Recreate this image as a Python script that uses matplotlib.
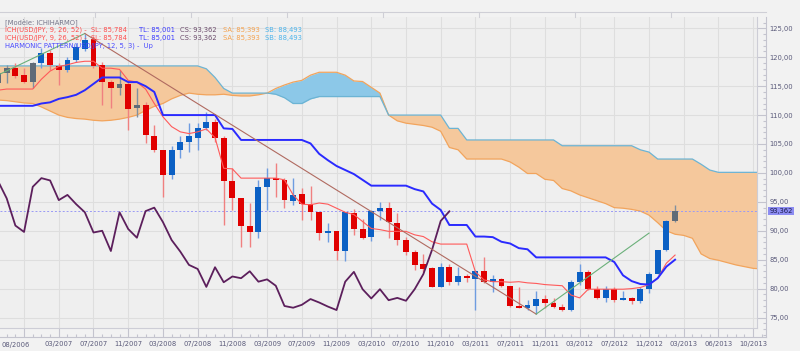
import numpy as np
import matplotlib
matplotlib.use("Agg")
import matplotlib.pyplot as plt
from matplotlib.lines import Line2D
from matplotlib.ticker import FixedLocator, MultipleLocator, FuncFormatter

# monthly USD/JPY candles, index 0 = 08/2006
opens = [115.5, 117.3, 118.1, 116.9, 115.8, 119.0, 120.7, 118.5, 117.8, 119.6,
         121.5, 123.2, 118.7, 115.8, 114.7, 115.4, 111.2, 111.7, 106.4, 104.0,
         99.6, 104.0, 105.4, 106.1, 107.8, 108.8, 106.1, 98.6, 95.6, 90.9,
         89.8, 97.6, 99.1, 98.7, 95.2, 96.3, 94.6, 93.2, 89.7, 90.0,
         86.5, 93.0, 90.3, 89.0, 93.4, 94.0, 91.3, 88.4, 86.4, 84.2,
         83.5, 80.3, 83.7, 81.1, 82.1, 81.6, 83.0, 81.2, 81.6, 80.5,
         77.0, 76.7, 77.0, 78.2, 77.6, 76.9, 76.3, 81.2, 82.9, 79.9,
         78.3, 79.9, 78.1, 78.3, 77.9, 79.9, 82.5, 86.7, 91.7]
highs = [117.5, 118.7, 119.0, 118.2, 119.2, 121.6, 121.3, 119.0, 120.0, 122.5,
         124.0, 123.7, 119.2, 116.1, 117.8, 115.8, 114.6, 112.2, 108.3, 104.0,
         104.6, 106.3, 108.6, 108.6, 110.6, 109.3, 106.3, 100.8, 95.6, 94.8,
         98.8, 100.8, 101.7, 99.1, 99.1, 97.4, 97.8, 93.2, 91.3, 90.0,
         93.3, 93.8, 92.0, 93.6, 94.9, 95.0, 93.0, 89.0, 86.7, 85.9,
         83.7, 84.5, 84.2, 83.8, 82.6, 83.2, 85.5, 82.3, 81.8, 80.5,
         80.3, 78.0, 79.6, 78.9, 78.3, 77.3, 81.5, 84.2, 83.2, 80.5,
         80.5, 80.3, 79.6, 78.6, 80.3, 82.9, 86.7, 91.9, 94.5]
lows = [114.6, 115.6, 116.4, 115.5, 114.7, 118.1, 117.8, 115.2, 117.4, 119.2,
        121.0, 118.1, 111.7, 111.2, 113.5, 107.4, 109.7, 105.1, 103.7, 95.9,
        99.0, 102.5, 103.7, 104.0, 107.4, 105.4, 91.0, 93.6, 87.2, 87.2,
        88.7, 93.6, 95.9, 93.9, 94.5, 91.9, 91.9, 88.4, 88.1, 85.0,
        84.8, 89.3, 88.6, 88.2, 91.9, 88.7, 87.5, 85.8, 83.2, 82.9,
        80.3, 80.3, 80.6, 80.6, 81.2, 76.3, 80.9, 79.5, 80.3, 76.8,
        76.6, 76.3, 75.6, 76.7, 76.6, 76.1, 76.1, 80.6, 79.8, 78.2,
        77.7, 77.7, 78.0, 77.3, 77.6, 79.2, 82.5, 86.5, 91.5]
closes = [117.2, 118.1, 116.8, 115.8, 119.0, 120.7, 118.6, 117.8, 119.6, 121.7,
          123.0, 118.5, 115.8, 114.7, 115.4, 111.0, 111.7, 106.6, 104.0, 99.6,
          104.0, 105.4, 106.3, 107.8, 108.8, 106.1, 98.6, 95.6, 90.9, 89.8,
          97.6, 99.1, 98.7, 95.3, 96.2, 94.6, 93.2, 89.7, 90.0, 86.5,
          93.2, 90.3, 88.8, 93.4, 94.0, 91.5, 88.4, 86.4, 84.1, 83.4,
          80.3, 83.7, 81.1, 82.1, 81.8, 83.0, 81.2, 81.6, 80.5, 77.0,
          76.7, 77.2, 78.2, 77.6, 76.9, 76.3, 81.2, 82.9, 79.9, 78.3,
          79.9, 78.0, 78.4, 77.9, 79.9, 82.5, 86.7, 91.7, 93.362]
candle_col = ['g', 'g', 'r', 'r', 'g', 'b', 'r', 'r', 'b', 'b',
              'b', 'r', 'r', 'r', 'g', 'r', 'g', 'r', 'r', 'r',
              'b', 'b', 'b', 'b', 'b', 'r', 'r', 'r', 'r', 'r',
              'b', 'b', 'r', 'r', 'b', 'r', 'r', 'r', 'b', 'r',
              'b', 'r', 'r', 'b', 'b', 'r', 'r', 'r', 'r', 'r',
              'r', 'b', 'r', 'b', 'r', 'b', 'r', 'b', 'r', 'r',
              'r', 'b', 'b', 'r', 'r', 'r', 'b', 'b', 'r', 'r',
              'b', 'r', 'b', 'r', 'b', 'b', 'b', 'b', 'g']

# ichimoku lines
tenkan = [114.3, 114.5, 114.5, 114.5, 114.5, 116.2, 117.6, 118.4, 118.7, 119.1,
          119.3, 119.3, 118.1, 118.1, 117.9, 116.0, 115.7, 114.5, 112.0, 109.7,
          108.0, 107.1, 106.8, 107.1, 107.6, 106.1, 100.8, 100.7, 99.1, 99.1,
          99.1, 99.1, 99.1, 98.8, 96.2, 94.6, 94.5, 94.8, 94.6, 93.9,
          93.2, 92.8, 91.6, 90.4, 90.2, 89.9, 89.9, 89.9, 89.3, 89.0,
          88.1, 87.7, 87.7, 87.7, 87.7, 82.9, 81.5, 81.2, 81.2, 81.1,
          81.2, 81.0, 80.9, 80.7, 80.6, 80.5, 78.9, 78.4, 79.9, 79.9,
          79.9, 79.9, 79.9, 80.0, 80.2, 80.7, 81.8, 84.4, 85.8]
kijun = [111.6, 111.6, 111.6, 111.6, 111.6, 112.0, 112.2, 112.8, 113.1, 113.5,
         114.3, 115.4, 116.5, 116.5, 116.5, 115.7, 115.7, 115.0, 114.0, 110.0,
         110.0, 110.0, 110.0, 110.0, 110.0, 110.0, 107.7, 107.6, 105.7, 105.7,
         105.7, 105.7, 105.7, 105.7, 105.7, 105.7, 105.1, 103.3, 102.2, 101.2,
         100.5, 99.8, 98.8, 97.8, 97.8, 97.8, 97.8, 97.8, 97.2, 96.8,
         94.7, 93.6, 91.0, 91.0, 91.0, 89.0, 89.0, 88.9, 88.1, 87.8,
         87.0, 86.8, 85.4, 85.4, 85.4, 85.4, 85.4, 85.4, 85.4, 85.4,
         85.4, 84.6, 82.3, 81.3, 80.8, 80.7, 81.8, 83.8, 85.0]
chikou = [98.6, 95.6, 90.9, 89.8, 97.6, 99.1, 98.7, 95.3, 96.2, 94.6,
          93.2, 89.7, 90.0, 86.5, 93.2, 90.3, 88.8, 93.4, 94.0, 91.5,
          88.4, 86.4, 84.1, 83.4, 80.3, 83.7, 81.1, 82.1, 81.8, 83.0,
          81.2, 81.6, 80.5, 77.0, 76.7, 77.2, 78.2, 77.6, 76.9, 76.3,
          81.2, 82.9, 79.9, 78.3, 79.9, 78.0, 78.4, 77.9, 79.9, 82.5,
          86.7, 91.7, 93.362]
senkou_a = [112.6, 112.5, 112.3, 112.1, 112.0, 111.4, 110.7, 110.0, 109.6, 109.4,
            109.3, 109.1, 109.0, 109.1, 109.3, 109.6, 110.0, 110.8, 111.5, 112.0,
            112.8, 113.4, 113.8, 113.6, 113.5, 113.5, 113.6, 113.4, 113.3, 113.3,
            113.5, 113.8, 114.6, 115.2, 115.7, 116.0, 116.9, 117.4, 117.4, 117.4,
            116.9, 115.9, 115.8, 114.8, 113.8, 110.0, 109.0, 108.6, 108.4, 108.2,
            107.9, 107.2, 104.4, 104.0, 102.4, 102.4, 102.4, 102.4, 102.4, 101.9,
            101.0, 99.9, 99.9, 98.9, 98.7, 97.3, 96.9, 96.2, 95.7, 95.2,
            94.7, 94.0, 93.9, 93.7, 93.4, 92.7, 91.4, 90.0, 89.4, 89.2,
            88.7, 86.0, 85.2, 84.9, 84.5, 84.1, 83.8, 83.5, 83.4, 83.3]
senkou_b = [118.5, 118.5, 118.5, 118.5, 118.5, 118.5, 118.5, 118.5, 118.5, 118.5,
            118.5, 118.5, 118.5, 118.5, 118.5, 118.5, 118.5, 118.5, 118.5, 118.5,
            118.5, 118.5, 118.5, 118.5, 118.0, 116.5, 114.6, 113.8, 113.8, 113.8,
            113.8, 113.8, 113.6, 113.0, 112.0, 112.0, 112.8, 113.2, 113.2, 113.2,
            113.2, 113.2, 113.2, 113.2, 113.2, 110.0, 110.0, 110.0, 110.0, 110.0,
            110.0, 110.0, 107.7, 107.7, 105.7, 105.7, 105.7, 105.7, 105.7, 105.7,
            105.7, 105.7, 105.7, 105.7, 105.7, 104.7, 104.7, 104.7, 104.7, 104.7,
            104.7, 104.7, 104.7, 104.7, 104.0, 103.6, 102.4, 102.4, 102.4, 102.4,
            102.4, 101.5, 100.5, 100.1, 100.1, 100.1, 100.1, 100.1, 100.1, 100.1]

# harmonic pattern pivots (index, price)
harm_idx = [-1, 10, 62, 75]
harm_val = [116.2, 124.1, 75.6, 89.6]
harm_col = ['#6bb07a', '#b06a60', '#6bb07a']

last_price = 93.362
tick_idx = list(range(3, 88, 4))
tick_lab = ['08/2006', '03/2007', '07/2007', '11/2007', '03/2008', '07/2008', '11/2008',
            '03/2009', '07/2009', '11/2009', '03/2010', '07/2010', '11/2010', '03/2011',
            '07/2011', '11/2011', '03/2012', '07/2012', '11/2012', '03/2013', '06/2013',
            '10/2013']

W, H = 800, 351
# pixel -> data mapping: x = -1.98 + 8.68*k ; y = 28.3 + (125 - v)*5.785
def kx(px):
    return (px + 1.98) / 8.68

def vy(py):
    return 125 - (py - 28.3) / 5.785

fig = plt.figure(figsize=(8, 3.51), dpi=100, facecolor='#f2f2f2')
# outer axes: tick strip
axt = fig.add_axes([0, 1 - 337 / H, 766 / W, 320 / H])
axt.set_xlim(kx(0), kx(766))
axt.set_ylim(vy(337), vy(17))
axt.patch.set_alpha(0)
# main plotting area
ax = fig.add_axes([0, 1 - 328 / H, 757 / W, 311 / H])
ax.set_facecolor('#efefef')
ax.set_xlim(kx(0), kx(757))
ax.set_ylim(vy(328), vy(17))

n = len(closes)
k = np.arange(n)

# cloud
kc = np.arange(len(senkou_a))
sa = np.array(senkou_a)
sb = np.array(senkou_b)
ax.fill_between(kc, sa, sb, where=sb >= sa, interpolate=True, color='#f5c89c', lw=0, zorder=1)
ax.fill_between(kc, sa, sb, where=sa > sb, interpolate=True, color='#8cc8e8', lw=0, zorder=1)
ax.plot(kc, sa, color='#f2a45c', lw=0.9, zorder=2)
ax.plot(kc, sb, color='#6cb4d4', lw=0.9, zorder=2)

# candles
body = {'r': '#e00000', 'b': '#0b60c4', 'g': '#5f6b78'}
wick = {'r': '#f08080', 'b': '#6e9ce0', 'g': '#8090a0'}
for i in range(n):
    c = candle_col[i]
    ax.vlines(k[i], lows[i], highs[i], color=wick[c], lw=1.0, zorder=3)
    lo = min(opens[i], closes[i])
    ax.bar(k[i], max(abs(closes[i] - opens[i]), 0.15), bottom=lo, width=0.68,
           color=body[c], lw=0, zorder=4)

ax.plot(k, tenkan, color='#ff5a5a', lw=0.8, zorder=5)
ax.plot(k, kijun, color='#2a2aff', lw=1.4, zorder=5)
ax.plot(np.arange(len(chikou)), chikou, color='#5c1f5c', lw=1.3, zorder=5)

for j in range(3):
    ax.plot(harm_idx[j:j + 2], harm_val[j:j + 2], color=harm_col[j], lw=0.8, zorder=5)

ax.axhline(last_price, color='#9a9af5', lw=0.7, ls=(0, (2, 2)), zorder=2)

# grid on the plotting area
ax.xaxis.set_major_locator(FixedLocator(tick_idx))
ax.yaxis.set_major_locator(MultipleLocator(5))
ax.grid(True, which='major', color='#dedede', lw=0.8, zorder=0)
ax.set_axisbelow(True)
ax.tick_params(which='both', length=0, labelbottom=False, labelleft=False)
for s in ax.spines.values():
    s.set_visible(False)
ax.spines['right'].set_visible(True)
ax.spines['bottom'].set_visible(True)
ax.spines['right'].set_color('#cdcdd6')
ax.spines['bottom'].set_color('#cdcdd6')

# ticks on the outer strip
axt.xaxis.set_major_locator(FixedLocator(tick_idx))
axt.xaxis.set_minor_locator(MultipleLocator(1))
axt.set_xticklabels([''] + tick_lab[1:])
axt.yaxis.set_major_locator(MultipleLocator(5))
axt.yaxis.set_minor_locator(MultipleLocator(1))
axt.yaxis.tick_right()
axt.yaxis.set_major_formatter(FuncFormatter(lambda v, p: ('%.2f' % v).replace('.', ',')))
axt.tick_params(axis='both', which='major', direction='in', length=6.5, color='#c4c4ce',
                width=0.8, labelsize=4.9, labelcolor='#5a5a7a')
axt.tick_params(axis='both', which='minor', direction='in', length=2, color='#c4c4ce', width=0.8)
axt.tick_params(axis='x', pad=3)
axt.tick_params(axis='y', pad=2.5)
for s in axt.spines.values():
    s.set_visible(False)
axt.spines['right'].set_visible(True)
axt.spines['bottom'].set_visible(True)
axt.spines['right'].set_color('#c4c4ce')
axt.spines['bottom'].set_color('#c4c4ce')
fig.text(1 / W, 1 - 345 / H, tick_lab[0], fontsize=4.9, color='#5a5a7a', ha='left', va='center')

axt.annotate(('%.3f' % last_price).replace('.', ','), xy=(1.0, last_price),
             xycoords=('axes fraction', 'data'), xytext=(2.3, 0), textcoords='offset points',
             va='center', ha='left', fontsize=4.9, color='#1a1a4a',
             bbox=dict(boxstyle='square,pad=0.15', fc='#8c8cf2', ec='none'))

# top ruler
fig.add_artist(Line2D([0, 766 / W], [1 - 12 / H, 1 - 12 / H], color='#cfcfd6', lw=0.8))
for xp in range(95, 766, 96):
    fig.add_artist(Line2D([xp / W, xp / W], [1 - 12 / H, 1 - 17 / H], color='#cfcfd6', lw=0.8))

# legend texts
fs = 4.9
def put(x, y, s, c):
    fig.text(x / W, 1 - y / H, s, color=c, fontsize=fs, va='center', ha='left')

put(5, 22, '[Modèle: ICHIHARMO]', '#75758a')
for y in (30, 38):
    put(5, y, 'ICH(USD/JPY, 9, 26, 52) -  SL: 85,784', '#ff4d4d')
    put(139, y, 'TL: 85,001', '#3a3aff')
    put(180, y, 'CS: 93,362', '#6a4a6a')
    put(223, y, 'SA: 85,393', '#f5a24e')
    put(265, y, 'SB: 88,493', '#4cb4ec')
put(5, 46, 'HARMONIC PATTERN(USD/JPY, 12, 5, 3) -  Up', '#4a4aff')

fig.savefig('out.png', dpi=100, facecolor=fig.get_facecolor())
